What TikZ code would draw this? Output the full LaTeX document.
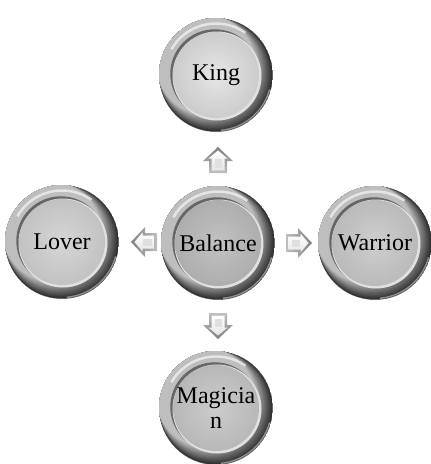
\documentclass[tikz,border=0pt]{standalone}
\usepackage{fontspec}
\setmainfont{Liberation Serif}
\usetikzlibrary{calc}
\newcommand\blockarrowat[3]{% name, position, rotation
  \coordinate (#1) at #2;
  \begin{scope}[shift={(#1)}, rotate=#3]
    \shade[left color=black!25, right color=black!50, shading angle=#3+90]
      (-13,-9) -- (-1,-9) -- (-1,-15) -- (13,0) -- (-1,15) -- (-1,9) -- (-13,9) -- cycle;
    \shade[top color=white, bottom color=black!10]
      (-10.5,-6.5) -- (1.5,-6.5) -- (1.5,-9.5) -- (9.5,0) -- (1.5,9.5) -- (1.5,6.5) -- (-10.5,6.5) -- cycle;
    \fill[white!88!black] (-7.5,-3.5) rectangle (1,3.5);
  \end{scope}}
\begin{document}
\begin{tikzpicture}[x=1pt,y=1pt,
  orb/.style n args={2}{circle, minimum size=114pt, inner sep=0pt,
    align=center, font=\fontsize{24}{25}\selectfont, text=black,
    path picture={
      \coordinate (pc) at (path picture bounding box.center);
      \fill[black!45] (pc) circle (57pt);
      \foreach \i in {0,...,24}{
        \pgfmathsetmacro{\cc}{82-2.35*\i}
        \fill[black!\cc] ([xshift={-0.42*\i}, yshift={0.42*\i}]pc) circle ({56.5-0.3*\i});
      }
      \draw[white, line width=2.5pt, opacity=0.6] (pc) ++(55:51.5) arc (55:150:51.5);
      \draw[white, line width=1.4pt, opacity=0.45] (pc) ++(-85:55.5) arc (-85:-15:55.5);
      \fill[black!60] ([xshift=-1.2pt,yshift=1.2pt]pc) circle (44.5pt);
      \fill[white!88!black] ([xshift=1pt,yshift=-1pt]pc) circle (44.5pt);
      \shade[inner color=#1, outer color=#2] (pc) circle (43pt);
    }},
]
\useasboundingbox (0,0) rectangle (431,-464);
\node[orb={black!10}{black!20}] (king) at (216,-75) {King};
\node[orb={black!24}{black!32}] (balance) at (218,-243) {Balance};
\node[orb={black!16}{black!24}] (lover) at (62,-242) {Lover};
\node[orb={black!19}{black!27}] (warrior) at (375,-243) {Warrior};
\node[orb={black!20}{black!28}] (magician) at (216,-408) {Magicia\\n};
\blockarrowat{aup}{(218,-160)}{90}
\blockarrowat{aleft}{(144,-242)}{180}
\blockarrowat{aright}{(299,-243)}{0}
\blockarrowat{adown}{(218,-326)}{270}
\end{tikzpicture}
\end{document}
